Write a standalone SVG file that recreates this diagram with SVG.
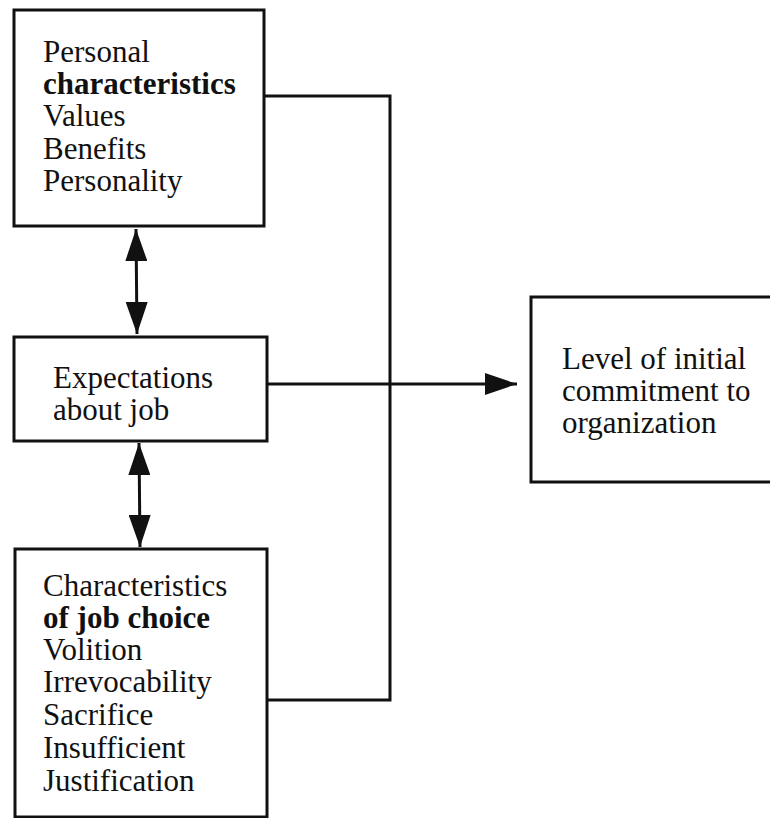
<svg xmlns="http://www.w3.org/2000/svg" width="770" height="818" viewBox="0 0 770 818">
  <style>
    .box { fill: #ffffff; stroke: #111111; stroke-width: 3; }
    .t { font-family: "Liberation Serif", "Times New Roman", serif; font-size: 31px; fill: #111111; }
    .b { font-weight: bold; }
    .line { fill: none; stroke: #111111; stroke-width: 3; }
  </style>
  <defs>
    <marker id="big" viewBox="0 0 32 22" refX="32" refY="11" markerWidth="32" markerHeight="22" markerUnits="userSpaceOnUse" orient="auto-start-reverse">
      <path d="M0,0 L32,11 L0,22 z" fill="#111111"/>
    </marker>
  </defs>
  <rect width="770" height="818" fill="#ffffff"/>

  <g id="connectors">
    <polyline class="line" points="264,96 390,96 390,700 267,700"/>
    <line class="line" x1="266" y1="384" x2="517" y2="384" marker-end="url(#big)"/>
    <line class="line" x1="136" y1="229" x2="137" y2="334" marker-start="url(#big)" marker-end="url(#big)"/>
    <line class="line" x1="139" y1="443" x2="140" y2="547" marker-start="url(#big)" marker-end="url(#big)"/>
  </g>

  <g id="personal">
    <rect class="box" x="14" y="10" width="250" height="216"/>
    <text class="t" x="43" y="62">Personal</text>
    <text class="t b" x="43" y="94">characteristics</text>
    <text class="t" x="43" y="126">Values</text>
    <text class="t" x="43" y="159">Benefits</text>
    <text class="t" x="43" y="191">Personality</text>
  </g>

  <g id="expectations">
    <rect class="box" x="14" y="337" width="253" height="104"/>
    <text class="t" x="53" y="388">Expectations</text>
    <text class="t" x="53" y="420">about job</text>
  </g>

  <g id="commitment">
    <rect class="box" x="531" y="297" width="250" height="185"/>
    <text class="t" x="562" y="369">Level of initial</text>
    <text class="t" x="562" y="401">commitment to</text>
    <text class="t" x="562" y="433">organization</text>
  </g>

  <g id="jobchoice">
    <rect class="box" x="15" y="549" width="252" height="268"/>
    <text class="t" x="43" y="596">Characteristics</text>
    <text class="t b" x="43" y="628">of job choice</text>
    <text class="t" x="43" y="660">Volition</text>
    <text class="t" x="43" y="692">Irrevocability</text>
    <text class="t" x="43" y="725">Sacrifice</text>
    <text class="t" x="43" y="758">Insufficient</text>
    <text class="t" x="43" y="791">Justification</text>
  </g>
</svg>
